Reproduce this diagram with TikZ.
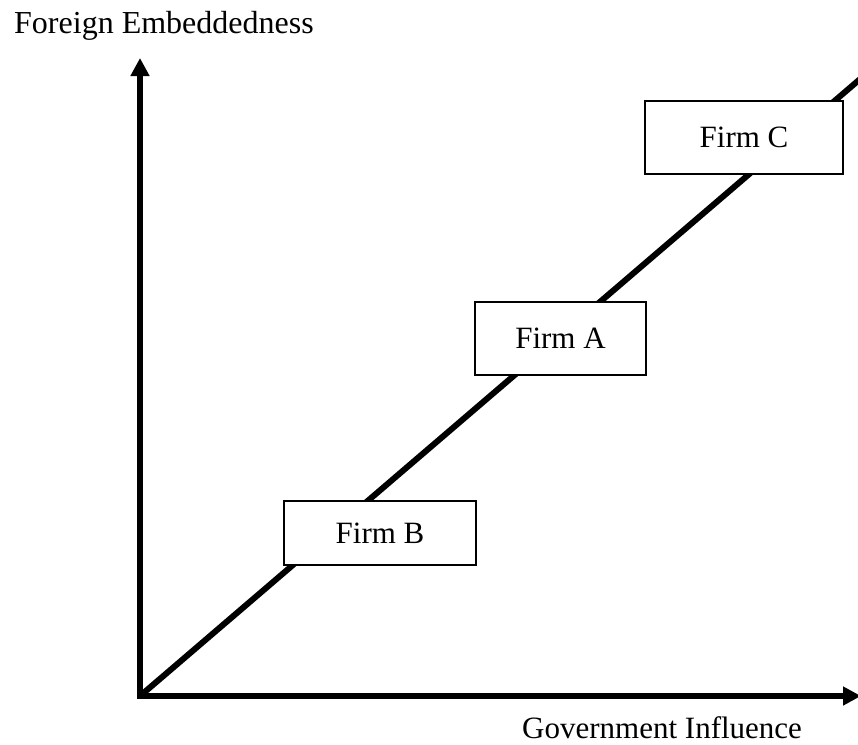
\documentclass[tikz,border=0pt]{standalone}
\usepackage{fontspec}
\setmainfont{Liberation Serif}
\usetikzlibrary{arrows.meta}
\begin{document}
\begin{tikzpicture}[x=1pt,y=-1pt,
  axis/.style={line width=6pt,-{Triangle[width=18pt,length=18pt]}},
  diag/.style={line width=6pt},
  firmbox/.style={draw,line width=1.8pt,fill=white,inner sep=0pt,font=\fontsize{31}{36}\selectfont},
  lbl/.style={inner sep=0pt,anchor=base west}]
\useasboundingbox (0,0) rectangle (858,744);
\coordinate (o) at (140,696);
\coordinate (ytop) at (140,58);
\coordinate (xend) at (861,696);
\coordinate (dend) at (866,74);
\draw[diag] (o) -- (dend);
\draw[axis] ([yshift=3pt]o) -- (ytop);
\draw[axis] ([xshift=-3pt]o) -- (xend);
\node[firmbox,minimum width=198pt,minimum height=73pt] (c) at (744,137.5) {Firm C};
\node[firmbox,minimum width=171pt,minimum height=73pt] (a) at (560.5,338.5) {Firm A};
\node[firmbox,minimum width=192pt,minimum height=64pt] (b) at (380,533) {Firm B};
\node[lbl,font=\fontsize{32}{38}\selectfont] (fe) at (14,33) {Foreign Embeddedness};
\node[lbl,font=\fontsize{31}{36}\selectfont] (gi) at (522,738) {Government Influence};
\end{tikzpicture}
\end{document}
